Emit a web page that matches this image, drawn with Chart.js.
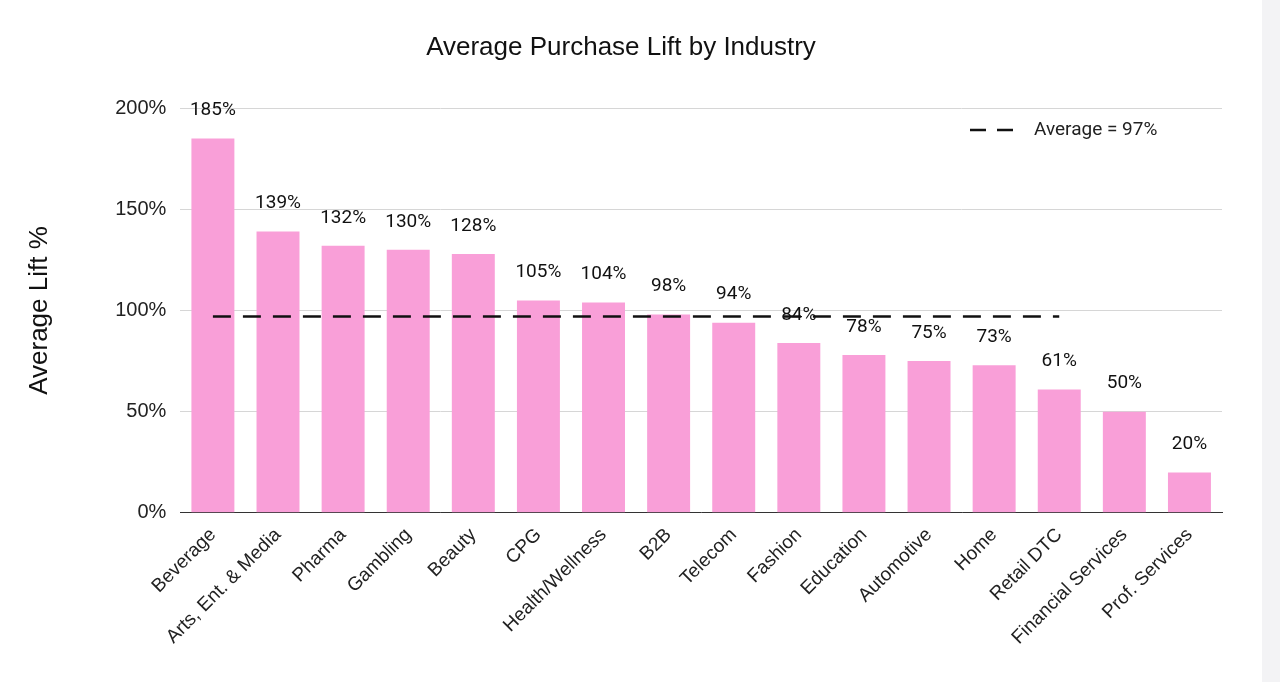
<!DOCTYPE html>
<html>
<head>
<meta charset="utf-8">
<script src="https://cdn.jsdelivr.net/npm/chart.js@4.4.0/dist/chart.umd.min.js"></script>
<style>
  html, body { margin: 0; padding: 0; background: #fff; }
  #wrap { position: absolute; left: 0; top: 0; width: 1262px; height: 682px; }
  #side { position: absolute; left: 1262px; top: 0; width: 18px; height: 682px; background: #f3f3f5; }
</style>
</head>
<body>
<div id="wrap"><canvas id="chart"></canvas></div>
<div id="side"></div>
<script>
const industries = ['Beverage', 'Arts, Ent. & Media', 'Pharma', 'Gambling', 'Beauty', 'CPG',
  'Health/Wellness', 'B2B', 'Telecom', 'Fashion', 'Education', 'Automotive', 'Home',
  'Retail DTC', 'Financial Services', 'Prof. Services'];
const lift = [185, 139, 132, 130, 128, 105, 104, 98, 94, 84, 78, 75, 73, 61, 50, 20];
const averageLift = 97;
const averageSpan = 14; // line runs over the first 14 categories
const yTicks = [0, 50, 100, 150, 200];

const avgData = industries.map((c, i) => i < averageSpan ? averageLift : null);

// labels above the bars
const barLabels = {
  id: 'barLabels',
  afterDatasetsDraw(chart) {
    const ctx = chart.ctx;
    const meta = chart.getDatasetMeta(0);
    ctx.save();
    ctx.font = '19px Roboto, "Open Sans", sans-serif';
    ctx.fillStyle = '#111';
    ctx.textAlign = 'center';
    ctx.textBaseline = 'middle';
    meta.data.forEach((bar, i) => {
      ctx.fillText(lift[i] + '%', bar.x, bar.y - 28);
    });
    // legend
    const x0 = 970, y0 = 130;
    ctx.strokeStyle = '#111';
    ctx.lineWidth = 2.5;
    ctx.setLineDash([16, 11]);
    ctx.beginPath();
    ctx.moveTo(x0, y0);
    ctx.lineTo(x0 + 44, y0);
    ctx.stroke();
    ctx.setLineDash([]);
    ctx.textAlign = 'left';
    ctx.fillStyle = '#222';
    ctx.fillText('Average = ' + averageLift + '%', x0 + 64, y0);
    ctx.restore();
  }
};

new Chart(document.getElementById('chart'), {
  type: 'bar',
  data: {
    labels: industries,
    datasets: [{
      type: 'bar',
      data: lift,
      backgroundColor: '#f99fd8',
      categoryPercentage: 1,
      barPercentage: 0.66,
      order: 2
    }, {
      type: 'line',
      data: avgData,
      borderColor: '#111',
      borderWidth: 2.5,
      borderDash: [18, 12],
      pointRadius: 0,
      fill: false,
      order: 1
    }]
  },
  options: {
    responsive: true,
    maintainAspectRatio: false,
    animation: false,
    layout: { padding: { left: 20, right: 40, top: 32, bottom: 30 } },
    plugins: {
      legend: { display: false },
      tooltip: { enabled: false },
      title: {
        display: true,
        text: 'Average Purchase Lift by Industry',
        color: '#111',
        font: { size: 26, family: 'Liberation Sans, Arial, sans-serif', weight: 'normal' },
        padding: { top: 0, bottom: 45 }
      }
    },
    scales: {
      x: {
        grid: { display: false },
        border: { color: '#333' },
        ticks: {
          color: '#222',
          maxRotation: 45, minRotation: 45,
          font: { size: 19, family: 'Liberation Sans, Arial, sans-serif' }
        }
      },
      y: {
        min: 0, max: 200,
        afterBuildTicks(axis) { axis.ticks = yTicks.map(v => ({ value: v })); },
        grid: { color: '#d6d6d6', drawTicks: false },
        border: { display: false },
        title: {
          display: true,
          text: 'Average Lift %',
          color: '#111',
          font: { size: 26, family: 'Liberation Sans, Arial, sans-serif' },
          padding: { bottom: 46 }
        },
        ticks: {
          color: '#222',
          padding: 14,
          callback: v => v + '%',
          font: { size: 20, family: 'Liberation Sans, Arial, sans-serif' }
        }
      }
    }
  },
  plugins: [barLabels]
});
</script>
</body>
</html>
